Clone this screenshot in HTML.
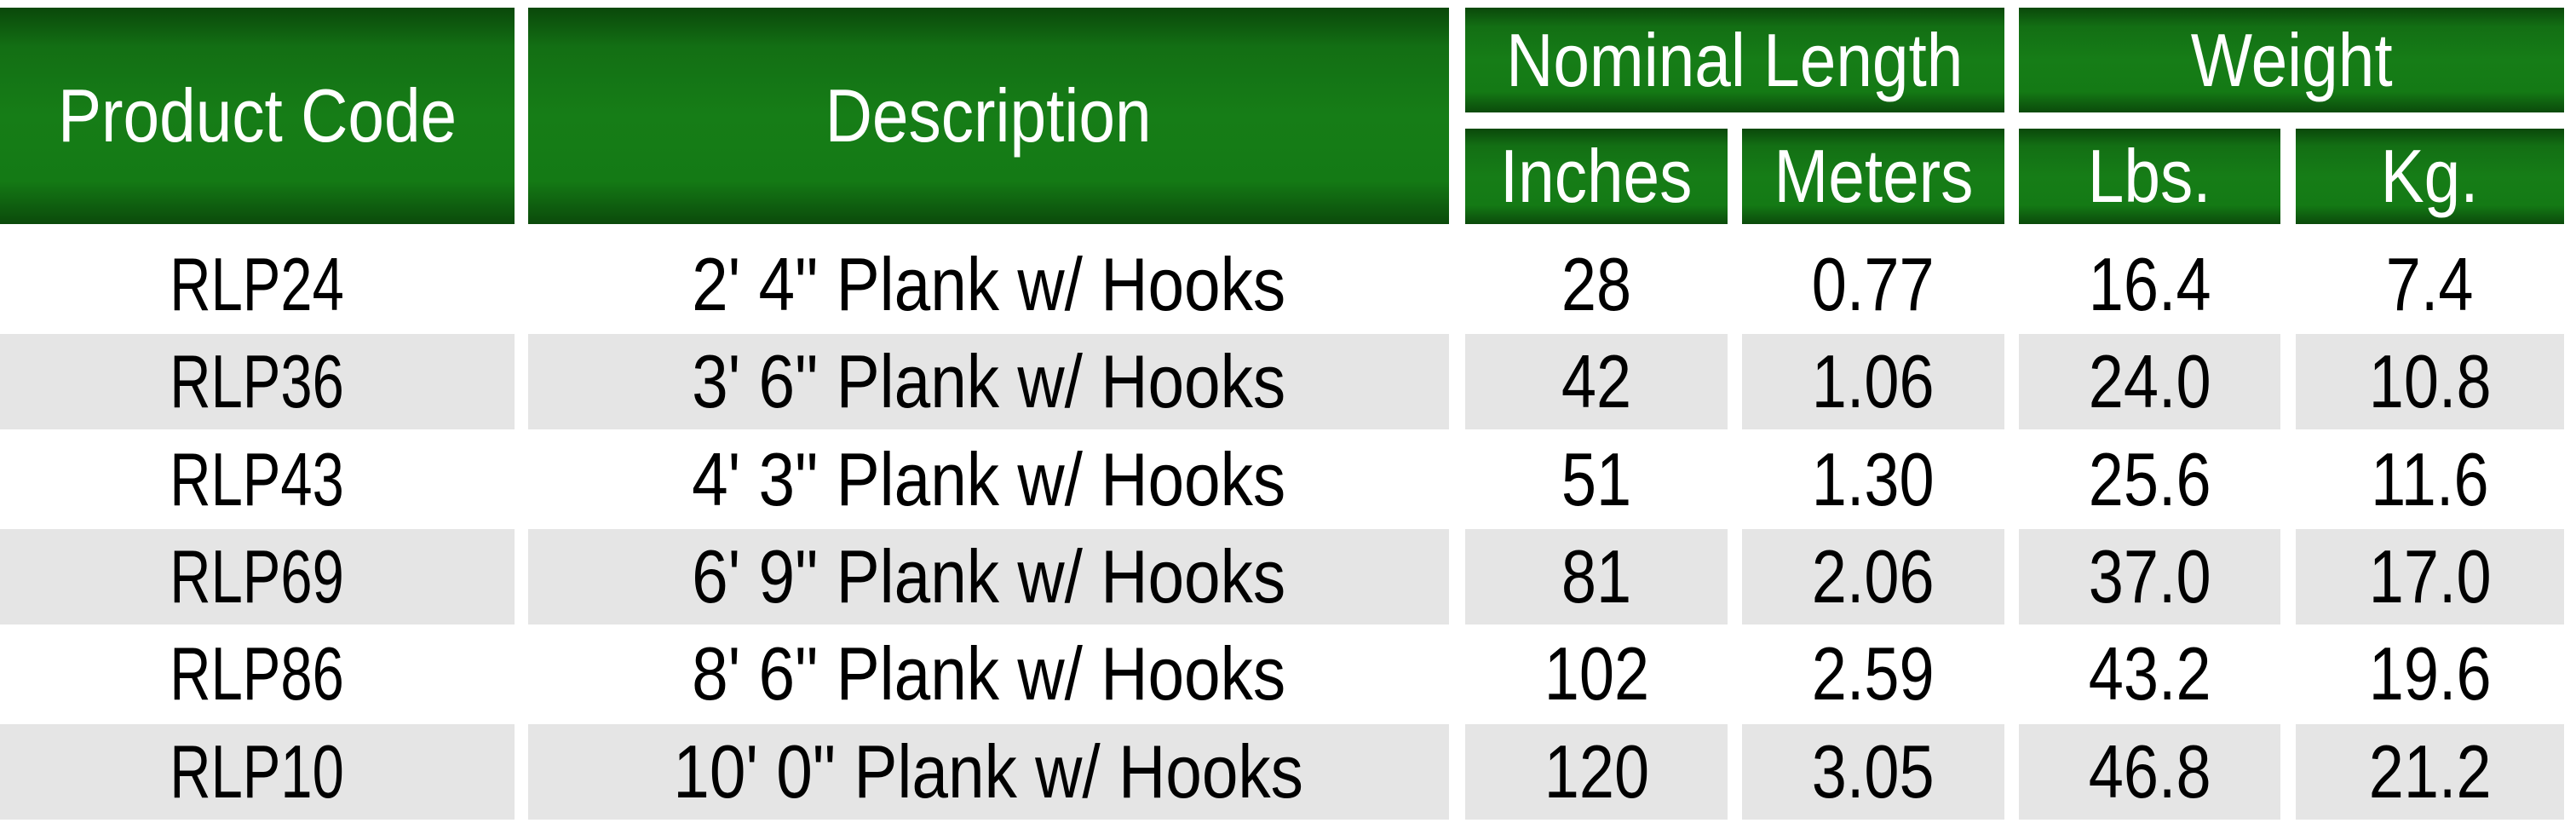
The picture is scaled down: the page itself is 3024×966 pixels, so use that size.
<!DOCTYPE html>
<html><head><meta charset="utf-8"><style>
html,body{margin:0;padding:0;background:#fff;}
body{width:3024px;height:966px;position:relative;overflow:hidden;font-family:"Liberation Sans",sans-serif;}
.h{position:absolute;background:linear-gradient(to bottom,#0a480a 0%,#136f14 18%,#167d17 50%,#147a15 80%,#0b4a0b 100%);color:#fff;display:flex;align-items:center;justify-content:center;}
.g{position:absolute;background:#e5e5e5;}
.t{position:absolute;display:flex;align-items:center;justify-content:center;color:#000;}
.s{display:inline-block;transform:scaleX(0.84);white-space:nowrap;font-size:88px;line-height:1;}
.h .s{transform:scaleX(0.87);}
</style></head><body>
<div class="h" style="left:0;top:9px;width:604px;height:254px"><span class="s">Product Code</span></div>
<div class="h" style="left:620px;top:9px;width:1081px;height:254px"><span class="s">Description</span></div>
<div class="h" style="left:1720px;top:9px;width:633px;height:123px"><span class="s">Nominal Length</span></div>
<div class="h" style="left:2370px;top:9px;width:640px;height:123px"><span class="s">Weight</span></div>
<div class="h" style="left:1720px;top:151px;width:308px;height:112px"><span class="s">Inches</span></div>
<div class="h" style="left:2045px;top:151px;width:308px;height:112px"><span class="s">Meters</span></div>
<div class="h" style="left:2370px;top:151px;width:307px;height:112px"><span class="s">Lbs.</span></div>
<div class="h" style="left:2695px;top:151px;width:315px;height:112px"><span class="s">Kg.</span></div>
<div id="rows"></div>
<script>
const codes=["RLP24","RLP36","RLP43","RLP69","RLP86","RLP10"];
const descs=["2' 4\" Plank w/ Hooks","3' 6\" Plank w/ Hooks","4' 3\" Plank w/ Hooks","6' 9\" Plank w/ Hooks","8' 6\" Plank w/ Hooks","10' 0\" Plank w/ Hooks"];
const inches=["28","42","51","81","102","120"];
const meters=["0.77","1.06","1.30","2.06","2.59","3.05"];
const lbs=["16.4","24.0","25.6","37.0","43.2","46.8"];
const kg=["7.4","10.8","11.6","17.0","19.6","21.2"];
const cols=[[0,604],[620,1081],[1720,308],[2045,308],[2370,307],[2695,315]];
const names=["code","description","inches","meters","lbs","kg"];
const scales=[0.76,0.87,0.84,0.84,0.84,0.84];
const root=document.getElementById('rows');
for(let i=0;i<codes.length;i++){
  const top=277+114.3*i;
  const vals=[codes[i],descs[i],inches[i],meters[i],lbs[i],kg[i]];
  for(let c=0;c<6;c++){
    const isGray=i%2===1;
    const d=document.createElement('div');
    d.className=isGray?'g t':'t';
    
    
    d.style.left=cols[c][0]+'px';d.style.top=(top+1)+'px';d.style.width=cols[c][1]+'px';d.style.height='112px';
    const s=document.createElement('span');s.className='s';s.textContent=vals[c];
    s.style.transform='scaleX('+scales[c]+')';
    d.appendChild(s);root.appendChild(d);
  }
}
</script>
</body></html>
